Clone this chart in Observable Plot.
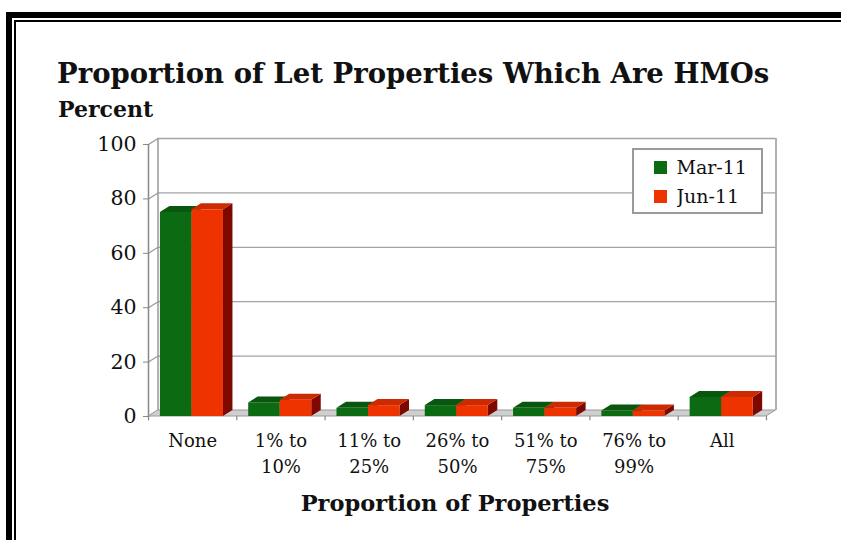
<!DOCTYPE html>
<html>
<head>
<meta charset="utf-8">
<script src="https://cdn.jsdelivr.net/npm/d3@7"></script>
<script src="https://cdn.jsdelivr.net/npm/@observablehq/plot@0.6"></script>
<style>
  html, body { margin: 0; padding: 0; background: #ffffff; }
  #page { position: relative; width: 841px; height: 540px; overflow: hidden; background: #fff; font-family: "DejaVu Serif", serif; }
  #outer { position: absolute; left: 6px; top: 12px; width: 900px; height: 600px; border-left: 6px solid #000; border-top: 6px solid #000; box-sizing: border-box; }
  #inner { position: absolute; left: 14px; top: 20px; width: 900px; height: 600px; border-left: 2px solid #000; border-top: 2px solid #000; box-sizing: border-box; }
  #chart { position: absolute; left: 0; top: 0; }
  #title { position: absolute; left: 57px; top: 57px; font-size: 27.5px; font-weight: bold; color: #111; white-space: nowrap; }
  #subtitle { position: absolute; left: 58px; top: 96px; font-size: 22px; font-weight: bold; color: #111; white-space: nowrap; }
  #xlabel { position: absolute; left: 0; width: 910px; text-align: center; top: 490px; font-size: 22.5px; font-weight: bold; color: #111; white-space: nowrap; }
  #legend { position: absolute; left: 632px; top: 148px; width: 131px; height: 66px; border: 2px solid #9a9a9a; box-sizing: border-box; background: #fff; padding: 3px 0 0 20px; }
  #legend * { font-family: "DejaVu Serif", serif !important; font-size: 19px !important; color: #111 !important; }
  #legend div div { line-height: 28px !important; height: 28px !important; margin: 0 !important; }
</style>
</head>
<body>
<div id="page">
  <div id="outer"></div>
  <div id="inner"></div>
  <div id="chart"></div>
  <div id="title">Proportion of Let Properties Which Are HMOs</div>
  <div id="subtitle">Percent</div>
  <div id="xlabel">Proportion of Properties</div>
  <div id="legend"></div>
</div>
<script>
// ---- data ----
const categories = ["None", "1% to 10%", "11% to 25%", "26% to 50%", "51% to 75%", "76% to 99%", "All"];
const series = ["Mar-11", "Jun-11"];
const mar11 = [75, 5, 3, 4, 3, 2, 7];
const jun11 = [76, 6, 4, 4, 3, 2, 7];
const yTicks = [0, 20, 40, 60, 80, 100];

// ---- styling / geometry ----
const frontColors = ["#0b6a12", "#ee3300"];
const topColors = ["#09560e", "#cc2a00"];
const sideColors = ["#064009", "#7d0800"];
const font = "DejaVu Serif";

const W = 841, H = 540;
const xLeft = 148, xRight = 766;          // front plot edges (px)
const yZero = 416, yHundred = 144;         // front 0 and 100 (px)
const unitX = (xRight - xLeft) / categories.length;
const unitY = (yZero - yHundred) / 100;
const DX = 9.5 / unitX;                    // depth in category units
const DY = 6 / unitY;                      // depth in percent units
const barStart = 0.135, barW = 0.357;

const values = [mar11, jun11];
const bars = [];
categories.forEach((c, i) => series.forEach((s, j) => {
  const a = i + barStart + j * barW, b = a + barW, v = values[j][i];
  bars.push({key: c + s, c, s, j, a, b, v});
}));

const topPts = [], sidePts = [];
for (const d of bars) {
  topPts.push(
    {key: d.key, j: d.j, x: d.a, y1: d.v, y2: d.v},
    {key: d.key, j: d.j, x: d.a + DX, y1: d.v, y2: d.v + DY},
    {key: d.key, j: d.j, x: d.b, y1: d.v, y2: d.v + DY},
    {key: d.key, j: d.j, x: d.b + DX, y1: d.v + DY, y2: d.v + DY}
  );
  sidePts.push(
    {key: d.key, j: d.j, x: d.b, y1: 0, y2: d.v},
    {key: d.key, j: d.j, x: d.b + DX, y1: DY, y2: d.v + DY}
  );
}
const n = categories.length;
const floorPts = [
  {x: 0, y1: 0, y2: 0},
  {x: DX, y1: 0, y2: DY},
  {x: n, y1: 0, y2: DY},
  {x: n + DX, y1: DY, y2: DY}
];

const marks = [];
// back wall gridlines
marks.push(Plot.ruleY(yTicks.filter(t => t > 0), {y: t => t + DY, x1: DX, x2: n + DX, stroke: "#a4a4a4", strokeWidth: 1.3}));
// back wall left and right edges
marks.push(Plot.ruleX([DX, n + DX], {x: d => d, y1: DY, y2: 100 + DY, stroke: "#999", strokeWidth: 1.5}));
// left wall diagonals
marks.push(Plot.link(yTicks, {x1: 0, y1: t => t, x2: DX, y2: t => t + DY, stroke: "#999", strokeWidth: 1.2}));
// front axis line
marks.push(Plot.ruleX([0], {y1: 0, y2: 100, stroke: "#888", strokeWidth: 1.5}));
// floor
marks.push(Plot.areaY(floorPts, {x: "x", y1: "y1", y2: "y2", fill: "#cfcfcf", stroke: "#999", strokeWidth: 1}));
// x boundary ticks
marks.push(Plot.ruleX(d3.range(0, n + 1), {x: d => d, y1: 0, y2: -1.6, stroke: "#888", strokeWidth: 1.2}));
// bars, series by series
series.forEach((s, j) => {
  marks.push(Plot.areaY(sidePts.filter(p => p.j === j), {x: "x", y1: "y1", y2: "y2", z: "key", fill: sideColors[j]}));
  marks.push(Plot.areaY(topPts.filter(p => p.j === j), {x: "x", y1: "y1", y2: "y2", z: "key", fill: topColors[j]}));
  marks.push(Plot.rect(bars.filter(d => d.j === j), {x1: "a", x2: "b", y1: 0, y2: "v", fill: frontColors[j]}));
});
// y axis
marks.push(Plot.axisY(yTicks, {tickSize: 5, tickPadding: 7, fontSize: 20.5, fontFamily: font, fill: "#111", stroke: "#888", label: null}));
// category labels
marks.push(Plot.text(categories, {
  x: (d, i) => i + 0.5, y: 0,
  text: d => d.replace(" to ", " to\n"),
  dy: 12, lineAnchor: "top", lineHeight: 1.45,
  fontSize: 18, fontFamily: font, fill: "#111"
}));

const chart = Plot.plot({
  width: W, height: H,
  marginLeft: xLeft, marginRight: W - (xRight + 9.5),
  marginTop: yHundred - 6, marginBottom: H - yZero,
  x: {domain: [0, n + DX], axis: null},
  y: {domain: [0, 100 + DY], axis: null},
  style: {background: "transparent", overflow: "visible"},
  marks
});
document.getElementById("chart").appendChild(chart);

const legend = Plot.legend({
  color: {domain: series, range: frontColors},
  columns: 1, swatchSize: 13
});
document.getElementById("legend").appendChild(legend);
</script>
</body>
</html>
